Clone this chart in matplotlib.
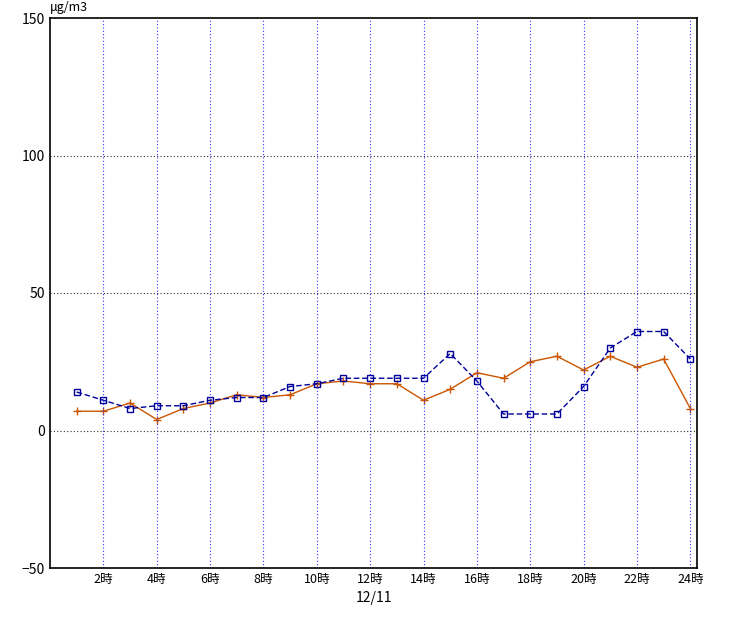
import matplotlib
matplotlib.use("Agg")
import matplotlib.pyplot as plt

plt.rcParams['font.family'] = ['Noto Sans CJK JP', 'DejaVu Sans']

hours = list(range(1, 25))
blue = [14, 11, 8, 9, 9, 11, 12, 12, 16, 17, 19, 19, 19, 19, 28, 18, 6, 6, 6, 16, 30, 36, 36, 26]
orange = [7, 7, 10, 4, 8, 10, 13, 12, 13, 17, 18, 17, 17, 11, 15, 21, 19, 25, 27, 22, 27, 23, 26, 8]
xticks = list(range(2, 25, 2))
xlabels = [f"{h}時" for h in xticks]

fig = plt.figure(figsize=(7.38, 6.2), dpi=100)
ax = fig.add_axes([50/738, 52/620, 647/738, 550/620])
ax.plot(hours, orange, color='#cc5500', lw=1, marker='+', ms=6, mew=1)
ax.plot(hours, blue, color='#000099', lw=1, ls=(0, (4, 2)), marker='s', ms=5,
        mfc='none', mec='#000099', mew=1)
ax.set_xlim(0, 24.25)
ax.set_ylim(-50, 150)
ax.set_yticks([-50, 0, 50, 100, 150])
ax.set_xticks(xticks)
ax.set_xticklabels(xlabels, fontsize=9)
ax.tick_params(axis='y', labelsize=10, length=0)
ax.tick_params(axis='x', length=0)
for x in xticks:
    ax.axvline(x, color='#3333ff', lw=0.8, ls=(0, (1, 2)))
for y in [0, 50, 100]:
    ax.axhline(y, color='#333333', lw=0.8, ls=(0, (1, 2)))
for s in ax.spines.values():
    s.set_linewidth(1.2)
ax.set_xlabel("12/11", fontsize=10)
fig.text(50/738, 1 - 8/620, "μg/m3", fontsize=9, ha='left', va='center')
fig.savefig("out.png", dpi=100)
